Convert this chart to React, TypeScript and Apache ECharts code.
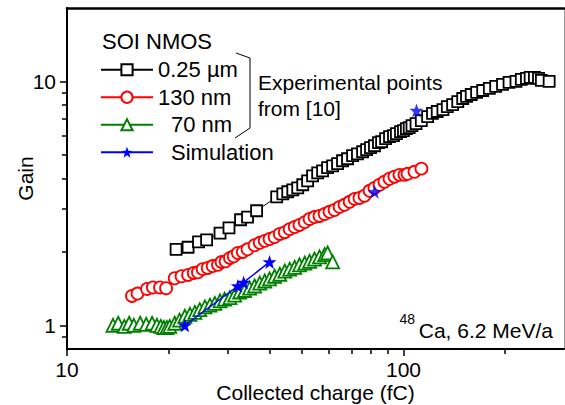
import React, { useEffect, useRef } from 'react';
import * as echarts from 'echarts';

const FONT = '"Liberation Sans", Arial, sans-serif';

const X_MIN = 10;
const X_MAX = 300;
const Y_MIN = 0.8;
const Y_MAX = 20;

const blackX = [21.1, 22.9, 24.6, 26.0, 28.5, 30.3, 32.8, 34.4, 36.6, 42.0, 43.8, 45.3, 46.9, 48.5, 50.2, 51.9, 53.7, 55.6, 57.5, 59.5, 61.6, 63.7, 65.9, 68.2, 70.6, 73.0, 75.6, 77.7, 79.8, 82.0, 84.3, 86.1, 88.5, 90.9, 93.4, 95.3, 98.0, 100, 102, 104, 106, 109, 113, 118, 122, 126, 131, 135, 140, 145, 150, 154, 159, 165, 172, 180, 188, 197, 206, 216, 224, 232, 238, 245, 252, 257, 271];
const blackY = [2.05, 2.09, 2.20, 2.24, 2.39, 2.51, 2.71, 2.78, 2.95, 3.36, 3.46, 3.53, 3.59, 3.66, 3.77, 3.91, 4.10, 4.22, 4.30, 4.43, 4.51, 4.60, 4.73, 4.82, 4.96, 5.05, 5.15, 5.25, 5.35, 5.45, 5.61, 5.66, 5.83, 5.94, 5.99, 6.11, 6.23, 6.28, 6.40, 6.47, 6.59, 6.72, 6.91, 7.18, 7.39, 7.53, 7.67, 7.89, 8.04, 8.27, 8.51, 8.68, 8.84, 9.01, 9.18, 9.36, 9.54, 9.72, 9.91, 10.0, 10.19, 10.29, 10.39, 10.39, 10.29, 10.10, 10.0];

const redX = [15.6, 16.2, 17.3, 18.0, 18.9, 19.7, 20.9, 21.9, 22.9, 23.8, 24.5, 25.3, 26.2, 27.1, 28.1, 28.8, 29.6, 30.5, 31.3, 32.2, 33.3, 34.4, 36.1, 37.4, 38.7, 40.0, 41.4, 42.9, 44.4, 45.9, 47.5, 49.1, 50.9, 52.6, 54.4, 56.3, 58.3, 60.3, 62.4, 64.6, 66.8, 69.2, 71.6, 74.0, 76.6, 79.3, 82.0, 84.9, 87.8, 90.9, 94.0, 97.3, 100.7, 102.8, 107.8, 113.1];
const redY = [1.32, 1.35, 1.41, 1.43, 1.43, 1.42, 1.56, 1.59, 1.61, 1.64, 1.65, 1.70, 1.72, 1.75, 1.77, 1.82, 1.83, 1.89, 1.92, 1.98, 2.00, 2.05, 2.13, 2.18, 2.22, 2.26, 2.30, 2.37, 2.41, 2.48, 2.53, 2.58, 2.65, 2.73, 2.78, 2.81, 2.86, 2.92, 2.97, 3.06, 3.12, 3.21, 3.30, 3.33, 3.40, 3.56, 3.66, 3.77, 3.88, 3.99, 4.07, 4.14, 4.14, 4.18, 4.26, 4.39];

const greenX = [13.7, 14.2, 14.8, 15.3, 15.8, 16.5, 17.2, 17.9, 18.5, 19.0, 19.4, 19.8, 20.2, 20.9, 21.6, 22.4, 23.2, 24.0, 24.8, 25.7, 26.6, 27.5, 28.5, 29.4, 30.5, 31.5, 32.6, 33.7, 34.9, 36.1, 37.4, 38.7, 40.0, 41.4, 42.9, 44.4, 45.9, 47.5, 49.1, 50.9, 52.6, 54.4, 56.3, 58.3, 59.5, 61.6];
const greenY = [1.00, 1.02, 0.99, 1.02, 1.00, 1.02, 1.01, 1.02, 1.00, 0.99, 0.98, 0.98, 0.99, 1.02, 1.05, 1.09, 1.11, 1.13, 1.16, 1.19, 1.21, 1.23, 1.26, 1.28, 1.30, 1.33, 1.37, 1.39, 1.42, 1.45, 1.49, 1.52, 1.55, 1.59, 1.62, 1.67, 1.70, 1.73, 1.77, 1.80, 1.83, 1.87, 1.91, 1.95, 1.98, 1.82];

const simLineX = [22.4, 32.2, 33.5, 40.0];
const simLineY = [1.00, 1.45, 1.50, 1.82];
const simPointX = [82.0, 109.3];
const simPointY = [3.53, 7.60];

const xLabels = [10, 100];
const yLabels = [1, 10];
const xMinorTicks = [20, 30, 40, 50, 60, 70, 80, 90, 200];
const xMajorTicks = [10, 100];
const yMinorTicks = [0.9, 2, 3, 4, 5, 6, 7, 8, 9];
const yMajorTicks = [1, 10];

const STAR = 'path://M0,-10L2.35,-3.24L9.51,-3.09L3.8,1.24L5.88,8.09L0,4L-5.88,8.09L-3.8,1.24L-9.51,-3.09L-2.35,-3.24Z';

const zip = (xs: number[], ys: number[]) => xs.map((x, i) => [x, ys[i]]);

const powerLabel = (v: number) => {
  const l = Math.log10(v);
  return Math.abs(l - Math.round(l)) < 1e-6 ? String(Math.round(v)) : '';
};

export default function App() {
  const ref = useRef<HTMLDivElement>(null);

  useEffect(() => {
    const chart = echarts.init(ref.current!, null, { renderer: 'svg' });

    const labelStyle = { fontFamily: FONT, fontSize: 21, color: '#000' };
    const hiddenAxisBase = {
      axisLine: { show: false },
      axisLabel: { show: false },
      splitLine: { show: false },
    };

    const option: any = {
      animation: false,
      backgroundColor: '#fff',
      grid: { left: 67, right: 1, top: 8, bottom: 56, containLabel: false, outerBoundsMode: 'none' },
      xAxis: [
        {
          type: 'log',
          logBase: 10,
          min: X_MIN,
          max: X_MAX,
          name: 'Collected charge (fC)',
          nameLocation: 'middle',
          nameGap: 33,
          nameMoveOverlap: false,
          nameTextStyle: labelStyle,
          axisLine: { lineStyle: { color: '#000', width: 2 } },
          axisTick: { show: true, customValues: xMajorTicks, length: 7, lineStyle: { color: '#000', width: 1.5 } },
          splitLine: { show: false },
          axisLabel: { ...labelStyle, margin: 10, customValues: xLabels, formatter: powerLabel },
        },
        {
          type: 'value',
          position: 'top',
          min: 0,
          max: 1,
          axisLine: { show: true, lineStyle: { color: '#000', width: 2.5 } },
          axisTick: { show: false },
          axisLabel: { show: false },
          splitLine: { show: false },
        },
        {
          type: 'log',
          logBase: 10,
          position: 'bottom',
          min: X_MIN,
          max: X_MAX,
          ...hiddenAxisBase,
          axisTick: { show: true, customValues: xMinorTicks, length: 5, lineStyle: { color: '#000', width: 1.5 } },
        },
      ],
      yAxis: [
        {
          type: 'log',
          logBase: 10,
          min: Y_MIN,
          max: Y_MAX,
          name: 'Gain',
          nameLocation: 'middle',
          nameGap: 31,
          nameMoveOverlap: false,
          nameTextStyle: labelStyle,
          axisLine: { show: true, lineStyle: { color: '#000', width: 2 } },
          axisTick: { show: true, customValues: yMajorTicks, length: 7, lineStyle: { color: '#000', width: 1.5 } },
          splitLine: { show: false },
          axisLabel: { ...labelStyle, margin: 11, customValues: yLabels, formatter: powerLabel },
        },
        {
          type: 'value',
          position: 'right',
          min: 0,
          max: 1,
          axisLine: { show: true, lineStyle: { color: '#999', width: 1 } },
          axisTick: { show: false },
          axisLabel: { show: false },
          splitLine: { show: false },
        },
        {
          type: 'log',
          logBase: 10,
          position: 'left',
          min: Y_MIN,
          max: Y_MAX,
          ...hiddenAxisBase,
          axisTick: { show: true, customValues: yMinorTicks, length: 5, lineStyle: { color: '#000', width: 1.5 } },
        },
      ],
      legend: {
        data: ['0.25 µm', '130 nm', '70 nm', 'Simulation'],
        orient: 'vertical',
        left: 100,
        top: 56,
        padding: 0,
        itemGap: 0,
        itemWidth: 52,
        itemHeight: 14,
        selectedMode: false,
        textStyle: { fontFamily: FONT, fontSize: 22, color: '#000', lineHeight: 27.5,
          rich: { ind: { fontFamily: FONT, fontSize: 22, color: '#000', padding: [0, 0, 0, 13], lineHeight: 27.5 } } },
        formatter: (name: string) => (name === '70 nm' || name === 'Simulation' ? '{ind|' + name + '}' : name),
      },
      graphic: [
        {
          type: 'text', left: 102, top: 30,
          style: { text: 'SOI NMOS', font: '22px ' + FONT, fill: '#000' },
        },
        {
          type: 'polyline',
          shape: { points: [[236, 53], [250, 58], [250, 128], [235, 138]] },
          style: { stroke: '#000', lineWidth: 1, fill: 'none' },
        },
        {
          type: 'text', x: 258, y: 82,
          style: { text: 'Experimental points', font: '21px ' + FONT, fill: '#000', verticalAlign: 'middle' },
        },
        {
          type: 'text', x: 258, y: 108,
          style: { text: 'from [10]', font: '21px ' + FONT, fill: '#000', verticalAlign: 'middle' },
        },
        {
          type: 'text', x: 415, y: 319,
          style: { text: '48', font: '14px ' + FONT, fill: '#000', align: 'right', verticalAlign: 'middle' },
        },
        {
          type: 'text', x: 553, y: 330,
          style: { text: 'Ca, 6.2 MeV/a', font: '21px ' + FONT, fill: '#000', align: 'right', verticalAlign: 'middle' },
        },
      ],
      series: [
        {
          type: 'line',
          name: '0.25 µm',
          data: zip(blackX, blackY),
          symbol: 'rect',
          symbolSize: 11,
          lineStyle: { color: '#000', width: 1 },
          itemStyle: { color: '#fff', borderColor: '#000', borderWidth: 1.8 },
          z: 3,
        },
        {
          type: 'line',
          name: '130 nm',
          data: zip(redX, redY),
          symbol: 'circle',
          symbolSize: 12,
          lineStyle: { color: '#ff0000', width: 1 },
          itemStyle: { color: '#fff', borderColor: '#ff0000', borderWidth: 1.8 },
          z: 3,
        },
        {
          type: 'line',
          name: '70 nm',
          data: zip(greenX, greenY),
          symbol: 'triangle',
          symbolSize: 13,
          lineStyle: { color: '#008000', width: 1 },
          itemStyle: { color: '#fff', borderColor: '#008000', borderWidth: 1.8 },
          z: 3,
        },
        {
          type: 'line',
          name: 'Simulation',
          data: zip(simLineX, simLineY),
          symbol: STAR,
          symbolSize: 14,
          lineStyle: { color: '#0000ff', width: 1.5 },
          itemStyle: { color: '#0000ff' },
          z: 4,
        },
        {
          type: 'scatter',
          name: 'Simulation points',
          data: zip(simPointX, simPointY),
          symbol: STAR,
          symbolSize: 14,
          itemStyle: { color: '#0000ff' },
          z: 4,
        },
      ],
    };

    chart.setOption(option);
    return () => chart.dispose();
  }, []);

  return (
    <div
      ref={ref}
      style={{ position: 'absolute', left: 0, top: 0, width: 565, height: 405, background: '#fff' }}
    />
  );
}
